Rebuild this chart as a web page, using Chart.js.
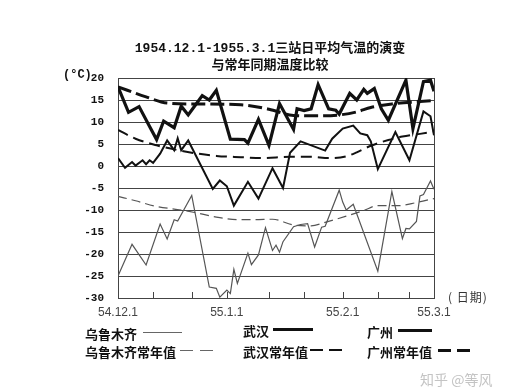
<!DOCTYPE html>
<html>
<head>
<meta charset="utf-8">
<script src="https://cdn.jsdelivr.net/npm/chart.js@4.4.1/dist/chart.umd.min.js"></script>
<style>
  body { margin: 0; background: #fff; }
  #wrap { position: relative; width: 527px; height: 389px; overflow: hidden; }
  #chart { position: absolute; left: 0; top: 0; }
  .txt { position: absolute; white-space: nowrap; color: #111; line-height: 16px; }
  .title { font: bold 13px "Liberation Mono", "Noto Sans CJK SC", monospace; left: 0; width: 540px; text-align: center; }
  .lg { font: bold 13px "Noto Sans CJK SC", sans-serif; }
  .ln { position: absolute; height: 0; }
</style>
</head>
<body>
<div id="wrap">
  <canvas id="chart" width="527" height="389"></canvas>
  <div class="txt title" style="top:37px;">1954.12.1-1955.3.1三站日平均气温的演变</div>
  <div class="txt title" style="top:54px;">与常年同期温度比较</div>
  <div class="txt" style="left:63px;top:68px;font:bold 12px 'Liberation Mono',monospace;">(°C)</div>
  <div class="txt" style="left:448px;top:288px;font:12px 'Noto Sans CJK SC',sans-serif;color:#333;letter-spacing:1px;">( 日期)</div>

  <div class="txt lg" style="left:85px;top:324px;">乌鲁木齐</div>
  <div class="ln" style="left:143px;top:332px;width:39px;border-top:1px solid #666;"></div>
  <div class="txt lg" style="left:243px;top:321px;">武汉</div>
  <div class="ln" style="left:273px;top:328px;width:40px;border-top:3px solid #111;"></div>
  <div class="txt lg" style="left:367px;top:322px;">广州</div>
  <div class="ln" style="left:398px;top:329px;width:34px;border-top:3px solid #111;"></div>

  <div class="txt lg" style="left:85px;top:342px;">乌鲁木齐常年值</div>
  <div class="ln" style="left:180px;top:350px;width:13px;border-top:1px solid #666;"></div>
  <div class="ln" style="left:200px;top:350px;width:13px;border-top:1px solid #666;"></div>
  <div class="txt lg" style="left:243px;top:342px;">武汉常年值</div>
  <div class="ln" style="left:310px;top:349px;width:13px;border-top:2px solid #111;"></div>
  <div class="ln" style="left:329px;top:349px;width:13px;border-top:2px solid #111;"></div>
  <div class="txt lg" style="left:367px;top:342px;">广州常年值</div>
  <div class="ln" style="left:438px;top:349px;width:13px;border-top:3px solid #111;"></div>
  <div class="ln" style="left:457px;top:349px;width:13px;border-top:3px solid #111;"></div>

  <div class="txt" style="left:420px;top:369px;font:14px 'Noto Sans CJK SC',sans-serif;color:#c4c4c4;">知乎 @等风</div>
</div>
<script>
// 日序号: 0 = 1954.12.1, 90 = 1955.3.1
const LABEL_DAYS = [0, 31, 64, 90];
const LABEL_TEXT = ['54.12.1', '55.1.1', '55.2.1', '55.3.1'];
const TICK_DAYS  = [10, 21, 31, 43, 53, 64, 74, 83];

const GZ_DAYS = [0, 3, 6, 9, 11, 13, 16, 18, 20, 22, 24, 26, 28, 32, 36, 37, 40, 43, 46, 50, 51, 53, 55, 57, 60, 62, 63, 66, 68, 70, 71, 73, 75, 77, 82, 84, 87, 89, 90];
const GZ_TEMP = [18, 12.2, 13.5, 9, 6, 10.2, 8.7, 13.6, 11.6, 13.8, 16, 15, 17.2, 6.1, 6, 5.2, 10.6, 4.7, 14.2, 8.3, 13, 12.6, 13, 18.5, 13, 12.7, 11.8, 16.5, 15, 17.4, 16.5, 17.6, 13, 10.4, 19.5, 8.5, 19.2, 19.5, 17];

const WH_DAYS = [0, 2, 4, 5, 7, 8, 9, 10, 12, 14, 16, 17, 18, 20, 27, 29, 31, 33, 37, 40, 44, 47, 49, 52, 59, 61, 64, 67, 69, 71, 72, 74, 79, 83, 87, 89, 90];
const WH_TEMP = [1.8, -0.4, 0.9, 0.1, 1.3, 0.4, 1.3, 0.7, 2.8, 5.8, 3.6, 6.3, 3.6, 5.8, -5.2, -3.3, -4.6, -9, -3.6, -7.4, -0.5, -5, 3, 5.6, 3.5, 6.2, 8.5, 9.2, 7.4, 7, 5.6, -0.7, 7.7, 1.3, 12.4, 11.3, 7];

const UR_DAYS = [0, 4, 8, 12, 14, 16, 17, 21, 26, 28, 29, 31, 32, 33, 34, 37, 38, 40, 42, 44, 45, 46, 47, 50, 52, 54, 56, 58, 59, 63, 64, 65, 67, 74, 78, 81, 82, 83, 85, 86, 87, 89, 90];
const UR_TEMP = [-25, -17.8, -22.5, -13.2, -16.6, -12.2, -12.5, -6.7, -27.5, -27.8, -29.8, -28.2, -29, -23.5, -26.7, -19.8, -22.4, -20.2, -14, -19.2, -18, -19.6, -17.2, -13.8, -13.3, -13.1, -18.4, -13.9, -13.7, -5.5, -8.2, -10, -8.7, -23.9, -5.8, -16.5, -14.2, -14.3, -12.6, -6.8, -6.5, -3.4, -5.3];

const GZN_DAYS = [0, 8, 14, 22, 35, 43, 50, 57, 63, 68, 72, 78, 87, 90];
const GZN_TEMP = [18, 15.7, 14.3, 14.1, 13.9, 12.9, 11.5, 11.4, 11.6, 12.3, 13.3, 14.1, 14.7, 14.9];

const WHN_DAYS = [0, 5, 11, 17, 22, 28, 35, 41, 49, 55, 60, 65, 68, 72, 77, 81, 86, 90];
const WHN_TEMP = [8.2, 6.2, 4.7, 3.6, 2.9, 2.3, 2, 1.8, 2.1, 2.1, 1.8, 2.2, 3.1, 4.6, 5.9, 6.7, 7.3, 7.8];

const URN_DAYS = [0, 5, 11, 18, 22, 28, 34, 39, 44, 50, 55, 59, 65, 70, 74, 80, 85, 90];
const URN_TEMP = [-6.9, -7.9, -9.2, -10, -10.6, -11.6, -12.2, -12.2, -12.1, -13.4, -13.6, -12.8, -11.4, -10.1, -9, -9, -8.3, -7.4];

function pts(days, temps) {
  return days.map((d, i) => ({ x: d, y: temps[i] }));
}

function solid(label, days, temps, color, width) {
  return {
    label, data: pts(days, temps), borderColor: color, borderWidth: width,
    pointRadius: 0, tension: 0, fill: false, borderJoinStyle: 'miter',
  };
}

function dashed(label, days, temps, color, width, dash) {
  return {
    label, data: pts(days, temps), borderColor: color, borderWidth: width,
    borderDash: dash, pointRadius: 0, cubicInterpolationMode: 'monotone', fill: false,
  };
}

// 右边框 + 向上的小刻度
const frameTicks = {
  id: 'frameTicks',
  afterDraw(chart) {
    const { ctx, chartArea: a, scales: { x } } = chart;
    ctx.save();
    ctx.strokeStyle = '#444';
    ctx.lineWidth = 1;
    ctx.beginPath();
    ctx.moveTo(Math.round(a.right) + 0.5, a.top);
    ctx.lineTo(Math.round(a.right) + 0.5, a.bottom);
    TICK_DAYS.forEach(d => {
      const px = Math.round(x.getPixelForValue(d)) + 0.5;
      ctx.moveTo(px, a.bottom);
      ctx.lineTo(px, a.bottom - 6);
    });
    ctx.stroke();
    ctx.restore();
  },
};

new Chart(document.getElementById('chart'), {
  type: 'line',
  data: {
    datasets: [
      dashed('乌鲁木齐常年值', URN_DAYS, URN_TEMP, '#555', 1.2, [9, 5]),
      dashed('武汉常年值', WHN_DAYS, WHN_TEMP, '#111', 2, [11, 6]),
      dashed('广州常年值', GZN_DAYS, GZN_TEMP, '#111', 3, [14, 5]),
      solid('乌鲁木齐', UR_DAYS, UR_TEMP, '#555', 1.2),
      solid('武汉', WH_DAYS, WH_TEMP, '#111', 2),
      solid('广州', GZ_DAYS, GZ_TEMP, '#111', 3.2),
    ],
  },
  options: {
    responsive: false,
    animation: false,
    layout: { padding: { left: 20, top: 78, right: 93, bottom: 67 } },
    plugins: { legend: { display: false }, tooltip: { enabled: false } },
    scales: {
      x: {
        type: 'linear', min: 0, max: 90,
        afterBuildTicks: s => { s.ticks = LABEL_DAYS.map(v => ({ value: v })); },
        afterFit: s => { s.height = 24; },
        grid: { display: false, drawTicks: false },
        border: { display: true, color: '#444', width: 1 },
        ticks: {
          autoSkip: false, maxRotation: 0, padding: 7, color: '#444',
          font: { family: 'Liberation Sans', size: 12 },
          callback: v => LABEL_TEXT[LABEL_DAYS.indexOf(v)] ?? '',
        },
      },
      y: {
        min: -30, max: 20,
        afterFit: s => { s.width = 98; },
        grid: { color: '#444', lineWidth: 1, drawTicks: false },
        border: { display: true, color: '#444', width: 1 },
        ticks: {
          stepSize: 5, padding: 14, color: '#111',
          font: { family: 'Liberation Mono', size: 11, weight: 'bold' },
        },
      },
    },
  },
  plugins: [frameTicks],
});
</script>
</body>
</html>
